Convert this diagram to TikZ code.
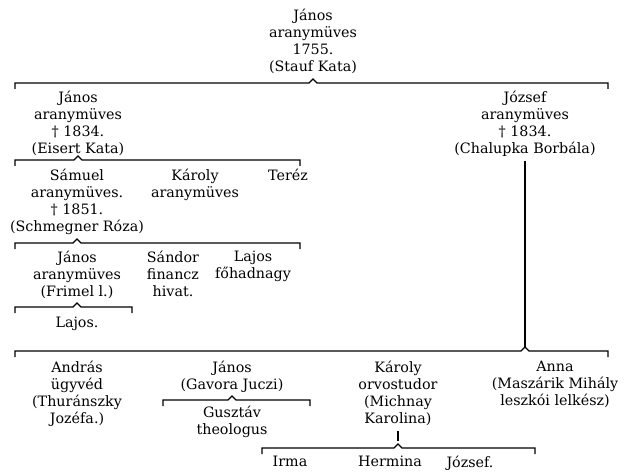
\documentclass[tikz,border=0pt]{standalone}
\usepackage{fontspec}
\setmainfont{DejaVu Serif}
\usetikzlibrary{calc}

\begin{document}
\begin{tikzpicture}[x=1pt, y=-1pt,
  person/.style={align=center, inner sep=0pt, anchor=north,
                 font=\fontsize{14.3}{17}\selectfont},
  brace/.style={draw=black, line width=1.1pt},
  stem/.style={draw=black, line width=1.1pt}
]
  \useasboundingbox (0,0) rectangle (626,473);

  % generation 1
  \node[person] (top) at (313, 9)
    {János\\aranymüves\\1755.\\(Stauf Kata)};

  \coordinate (b1l) at (15, 83);
  \coordinate (b1r) at (608, 83);
  \draw[brace] (b1l) ++(0,6) -- (b1l) -- ($(top.south |- b1l)+(-4,0)$)
    -- ++(4,-4) -- ++(4,4) -- (b1r) -- ++(0,6);

  % generation 2
  \node[person] (janos2) at (78, 91)
    {János\\aranymüves\\† 1834.\\(Eisert Kata)};
  \node[person] (jozsef) at (525, 91)
    {József\\aranymüves\\† 1834.\\(Chalupka Borbála)};

  \coordinate (b2l) at (15, 160);
  \coordinate (b2r) at (300, 160);
  \draw[brace] (b2l) ++(0,6) -- (b2l) -- ($(janos2.south |- b2l)+(-4,0)$)
    -- ++(4,-4) -- ++(4,4) -- (b2r) -- ++(0,6);

  % children of János
  \node[person] (samuel) at (77, 169)
    {Sámuel\\aranymüves.\\† 1851.\\(Schmegner Róza)};
  \node[person] (karoly1) at (195, 169) {Károly\\aranymüves};
  \node[person] (terez) at (288, 169) {Teréz};

  \coordinate (b3l) at (15, 243);
  \coordinate (b3r) at (300, 243);
  \draw[brace] (b3l) ++(0,6) -- (b3l) -- ($(samuel.south |- b3l)+(-4,0)$)
    -- ++(4,-4) -- ++(4,4) -- (b3r) -- ++(0,6);

  \node[person] (janos3) at (77, 251)
    {János\\aranymüves\\(Frimel l.)};
  \node[person] (sandor) at (173, 251) {Sándor\\financz\\hivat.};
  \node[person] (lajos1) at (253, 251) {Lajos\\főhadnagy};

  \coordinate (b4l) at (15, 307);
  \coordinate (b4r) at (132, 307);
  \draw[brace] (b4l) ++(0,6) -- (b4l) -- ($(janos3.south |- b4l)+(-4,0)$)
    -- ++(4,-4) -- ++(4,4) -- (b4r) -- ++(0,6);

  \node[person] (lajos2) at (77, 317) {Lajos.};

  % children of József
  \coordinate (b5l) at (15, 351);
  \coordinate (b5r) at (608, 351);
  \draw[stem] ($(jozsef.south)+(0,4)$) -- ($(jozsef.south |- b5l)+(0,-4)$);
  \draw[brace] (b5l) ++(0,6) -- (b5l) -- ($(jozsef.south |- b5l)+(-4,0)$)
    -- ++(4,-4) -- ++(4,4) -- (b5r) -- ++(0,6);

  \node[person] (andras) at (77, 361)
    {András\\ügyvéd\\(Thuránszky\\Jozéfa.)};
  \node[person] (janos4) at (232, 361) {János\\(Gavora Juczi)};
  \node[person] (karoly2) at (398, 361)
    {Károly\\orvostudor\\(Michnay\\Karolina)};
  \node[person] (anna) at (555, 361)
    {Anna\\(Maszárik Mihály\\leszkói lelkész)};

  \coordinate (b6l) at (163, 400);
  \coordinate (b6r) at (310, 400);
  \draw[brace] (b6l) ++(0,6) -- (b6l) -- ($(janos4.south |- b6l)+(-4,0)$)
    -- ++(4,-4) -- ++(4,4) -- (b6r) -- ++(0,6);

  \node[person] (gusztav) at (232, 406) {Gusztáv\\theologus};

  \coordinate (b7l) at (262, 448);
  \coordinate (b7r) at (535, 448);
  \draw[stem] ($(karoly2.south)+(0,5)$) -- ($(karoly2.south)+(0,15)$);
  \draw[brace] (b7l) ++(0,6) -- (b7l) -- ($(karoly2.south |- b7l)+(-4,0)$)
    -- ++(4,-4) -- ++(4,4) -- (b7r) -- ++(0,6);

  \node[person] (irma) at (290, 456) {Irma};
  \node[person] (hermina) at (390, 456) {Hermina};
  \node[person] (jozsef2) at (470, 456) {József.};
\end{tikzpicture}
\end{document}
